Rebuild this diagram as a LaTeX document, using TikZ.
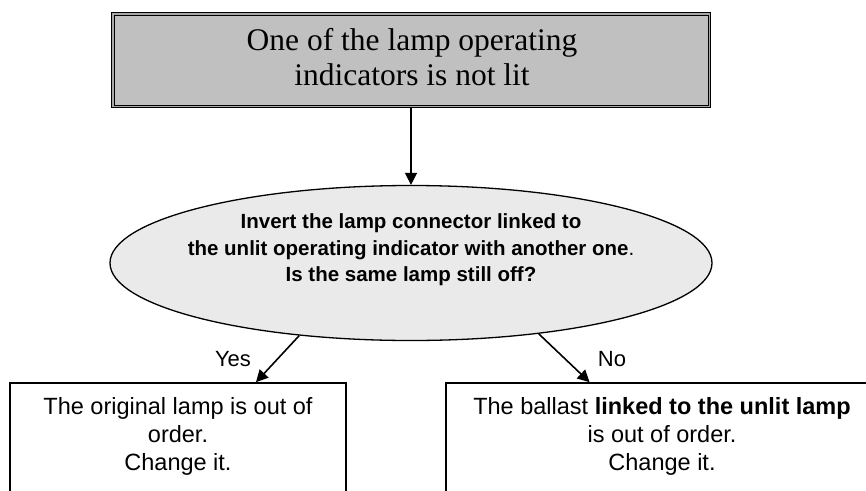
\documentclass[tikz,border=0pt]{standalone}
\usepackage{fontspec}
\setmainfont{Liberation Sans}
\newfontfamily\timesf{Liberation Serif}
\usetikzlibrary{shapes.geometric,arrows.meta,calc}
\definecolor{topfill}{HTML}{C0C0C0}
\definecolor{ellfill}{HTML}{EAEAEA}
\definecolor{dblgap}{HTML}{A8A8A8}
\begin{document}
\begin{tikzpicture}[x=1pt,y=-1pt,
  arr/.style={-{Triangle[length=12pt,width=12pt]},line width=1.6pt},
  topbox/.style={draw=black,line width=1pt,double=dblgap,double distance=1.5pt,fill=topfill,
    minimum width=596.5pt,minimum height=92.5pt,inner sep=0pt},
  qell/.style={ellipse,draw=black,line width=1.3pt,fill=ellfill,minimum width=602pt,minimum height=155pt,inner sep=0pt},
  resbox/.style={draw=black,line width=1.6pt,fill=white,inner sep=0pt},
  toptxt/.style={align=center,font=\timesf\fontsize{31.5}{35}\selectfont,inner sep=0pt},
  qtxt/.style={align=center,font=\fontsize{20.5}{26.5}\selectfont,inner sep=0pt},
  restxt/.style={align=center,font=\fontsize{23.5}{28}\selectfont,inner sep=0pt},
  lbl/.style={font=\fontsize{22}{26}\selectfont,inner sep=0pt}]
\clip (0,0) rectangle (866,490);
\fill[white] (0,0) rectangle (866,490);
% top box
\node[topbox] (top) at (411,60) {};
\node[toptxt] (toptext) at (412,57) {One of the lamp operating\\indicators is not lit};
% question ellipse
\node[qell] (q) at (411,263) {};
\node[qtxt] (qtext) at (411,250) {\textbf{Invert the lamp connector linked to}\\\textbf{the unlit operating indicator with another one}.\\\textbf{Is the same lamp still off?}};
% result boxes
\node[resbox,minimum width=336pt,minimum height=160pt] (lbox) at (178,463) {};
\node[restxt] (ltext) at (178,436) {The original lamp is out of\\order.\\Change it.};
\node[resbox,minimum width=432pt,minimum height=160pt] (rbox) at (662,463) {};
\node[restxt] (rtext) at (662,436) {The ballast \textbf{linked to the unlit lamp}\\is out of order.\\Change it.};
% connectors
\draw[arr] (top.south) -- (q.north);
\draw[arr] (q.213.8) -- ($(lbox.north west)!0.731!(lbox.north east)$);
\draw[arr] (q.331.2) -- ($(rbox.north west)!0.333!(rbox.north east)$);
% labels
\node[lbl] (yes) at (233,359) {Yes};
\node[lbl] (no) at (612,359) {No};
\end{tikzpicture}
\end{document}
